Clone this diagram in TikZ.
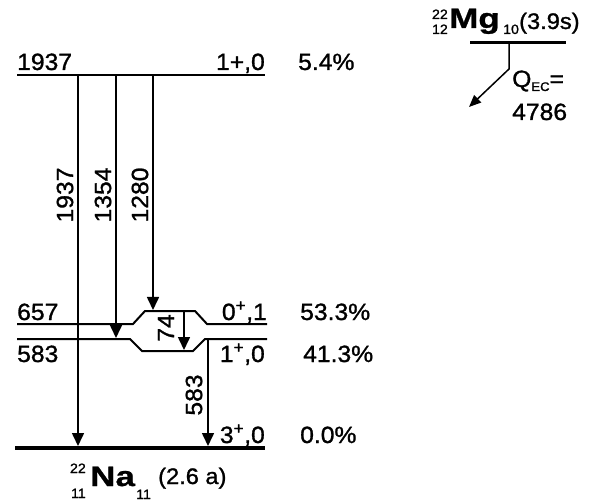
\documentclass[tikz,border=0pt]{standalone}
\usepackage{fontspec}
\setmainfont{Liberation Sans}[FakeStretch=1.05,FakeBold=1.2]
\newfontfamily\widefont{Liberation Sans}[FakeStretch=1.25,FakeBold=1]
\usetikzlibrary{arrows.meta}
\begin{document}
\begin{tikzpicture}[x=1pt,y=-1pt,
 lvl/.style={line width=2pt},
 gnd/.style={line width=4pt},
 tr/.style={line width=1.6pt,-{Triangle[width=12pt,length=13pt]}},
 txt/.style={inner sep=0pt,font=\fontsize{23.5}{27}\selectfont},
 small/.style={inner sep=0pt,font=\fontsize{13.5}{15}\selectfont},
 big/.style={inner sep=0pt,font=\widefont\fontsize{28}{32}\selectfont\bfseries},
 mgbig/.style={inner sep=0pt,font=\widefont\fontsize{28}{32}\selectfont\bfseries},
 mid/.style={inner sep=0pt,font=\fontsize{22.5}{26}\selectfont},
]
\useasboundingbox (0,0) rectangle (591,502);
% levels
\draw[lvl] (17,75) -- (265,75);
\draw[lvl] (17,324) -- (133,324) -- (145,311) -- (195,311) -- (207,324) -- (267,324);
\draw[lvl] (17,339) -- (130,339) -- (142,351) -- (193,351) -- (205,339) -- (267,339);
\draw[gnd] (15,448) -- (265,448);
% transitions
\coordinate (t1s) at (78,75);   \coordinate (t1e) at (78,446);
\coordinate (t2s) at (116,75);  \coordinate (t2e) at (116,338);
\coordinate (t3s) at (153,75);  \coordinate (t3e) at (153,310);
\coordinate (t4s) at (184,311); \coordinate (t4e) at (184,350);
\coordinate (t5s) at (208,339); \coordinate (t5e) at (208,446);
\draw[tr] (t1s) -- (t1e);
\draw[tr] (t2s) -- (t2e);
\draw[tr] (t3s) -- (t3e);
\draw[tr] (t4s) -- (t4e);
\draw[tr] (t5s) -- (t5e);
\node[txt,rotate=90] (g1) at (65,195) {1937};
\node[txt,rotate=90] (g2) at (103,195) {1354};
\node[txt,rotate=90] (g3) at (140,195) {1280};
\node[txt,rotate=90] (g4) at (166,328) {74};
\node[txt,rotate=90] (g5) at (194,395) {583};
% level labels
\node[txt,anchor=base west] (e1) at (17,70) {1937};
\node[txt,anchor=base east] (s1) at (265,70) {1+,0};
\node[txt,anchor=base west] (p1) at (298,70) {5.4\%};
\node[txt,anchor=base west] (e2) at (17,320) {657};
\node[txt,anchor=base east] (s2) at (267,320) {0\textsuperscript{+},1};
\node[txt,anchor=base west] (p2) at (300,320) {53.3\%};
\node[txt,anchor=base west] (e3) at (17,362) {583};
\node[txt,anchor=base east] (s3) at (265,362) {1\textsuperscript{+},0};
\node[txt,anchor=base west] (p3) at (303,362) {41.3\%};
\node[txt,anchor=base east] (s4) at (265,443) {3\textsuperscript{+},0};
\node[txt,anchor=base west] (p4) at (300,443) {0.0\%};
% Na label
\node[small,anchor=base east] (naA) at (86,473) {22};
\node[small,anchor=base east] (naZ) at (86,498) {11};
\node[big,anchor=base west] (na) at (90,486) {Na};
\node[small,anchor=base west] (naN) at (136,499) {11};
\node[mid,anchor=base west] (nat) at (158,484) {(2.6 a)};
% Mg
\node[small,anchor=base east] (mgAn) at (448,19) {22};
\node[small,anchor=base east] (mgZ) at (448,34) {12};
\node[mgbig,anchor=base west] (mg) at (449,28) {Mg};
\node[small,anchor=base west] (mgN) at (503,34) {10};
\node[mid,anchor=base west] (mgt) at (519,29) {(3.9s)};
\draw[line width=3pt] (470,43) -- (566,43);
\coordinate (mgA) at (509,43);
\coordinate (mgB) at (509,69);
\coordinate (mgC) at (469,107);
\draw[line width=1.5pt,-{Triangle[width=10pt,length=12pt]}] (mgA) -- (mgB) -- (mgC);
\node[txt,anchor=base west] (q) at (512,87) {Q\raisebox{-4pt}{\fontsize{12.5}{13}\selectfont EC}=};
\node[txt,anchor=base west] (qv) at (512,120) {4786};
\end{tikzpicture}
\end{document}
